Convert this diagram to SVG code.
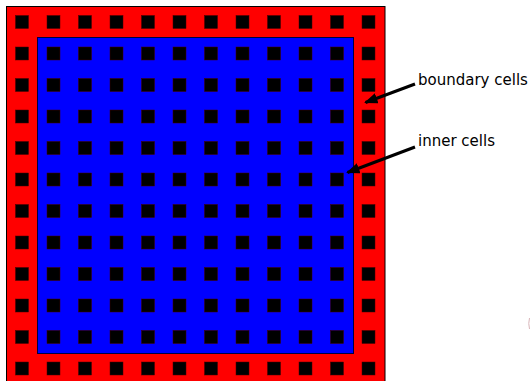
<svg xmlns="http://www.w3.org/2000/svg" width="530" height="381" viewBox="0 0 530 381">
<style>
.c{fill:#000;stroke:#400;stroke-width:0.5}
.lbl{font-family:"DejaVu Sans",sans-serif;font-size:15px;fill:#000}
.conn{stroke:#000;stroke-width:3;fill:none}
</style>
<defs>
<rect id="sq" class="c" width="13" height="13"/>
<g id="row">
<use href="#sq" x="15.5"/><use href="#sq" x="47"/><use href="#sq" x="78.5"/><use href="#sq" x="110"/>
<use href="#sq" x="141.5"/><use href="#sq" x="173"/><use href="#sq" x="204.5"/><use href="#sq" x="236"/>
<use href="#sq" x="267.5"/><use href="#sq" x="299"/><use href="#sq" x="330.5"/><use href="#sq" x="362"/>
</g>
<marker id="ah" markerWidth="4.5" markerHeight="3.6" refX="4" refY="1.8" orient="auto" markerUnits="strokeWidth">
<path d="M0,0 L4.5,1.8 L0,3.6 z" fill="#000"/>
</marker>
</defs>
<rect width="530" height="381" fill="#fff"/>
<g id="boundary">
<rect x="6.5" y="6.5" width="378.5" height="380" fill="#f00" stroke="#000" stroke-width="1"/>
</g>
<g id="inner">
<rect x="37.5" y="37.5" width="316" height="316" fill="#00f" stroke="#000040" stroke-width="1"/>
</g>
<g id="cells">
<use href="#row" y="15.5"/><use href="#row" y="47"/><use href="#row" y="78.5"/><use href="#row" y="110"/>
<use href="#row" y="141.5"/><use href="#row" y="173"/><use href="#row" y="204.5"/><use href="#row" y="236"/>
<use href="#row" y="267.5"/><use href="#row" y="299"/><use href="#row" y="330.5"/><use href="#row" y="362"/>
</g>
<g id="connectors">
<path class="conn" d="M415,84 L365.5,102.5" marker-end="url(#ah)"/>
<path class="conn" d="M415,147 L347.5,172.5" marker-end="url(#ah)"/>
</g>
<g id="label-boundary"><text class="lbl" x="418" y="85">boundary cells</text></g>
<g id="label-inner"><text class="lbl" x="418" y="146">inner cells</text></g>
<path d="M529.5,318 Q528,323.5 529.5,329" fill="none" stroke="#d8b4b8" stroke-width="1"/>
</svg>
